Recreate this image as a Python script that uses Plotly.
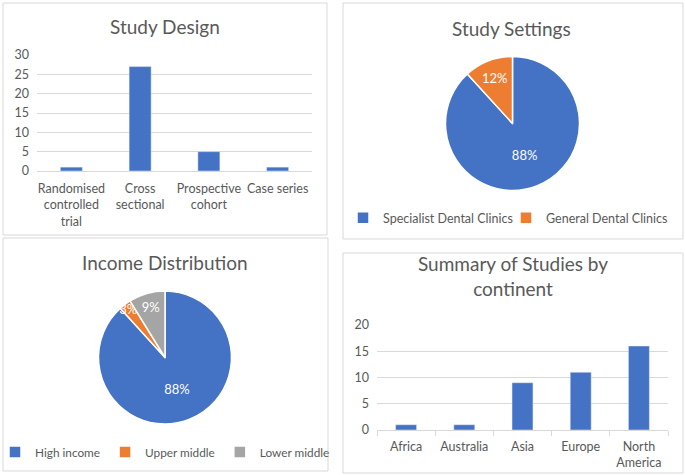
import plotly.graph_objects as go

# ---------------- data ----------------
design_categories = ["Randomised controlled trial", "Cross sectional", "Prospective cohort", "Case series"]
design_ticklabels = ["Randomised<br>controlled<br>trial", "Cross<br>sectional", "Prospective<br>cohort", "Case series"]
design_counts = [1, 27, 5, 1]

setting_labels = ["Specialist Dental Clinics", "General Dental Clinics"]
setting_counts = [30, 4]

income_labels = ["High income", "Upper middle", "Lower middle"]
income_counts = [30, 1, 3]

continent_categories = ["Africa", "Australia", "Asia", "Europe", "North America"]
continent_ticklabels = ["Africa", "Australia", "Asia", "Europe", "North<br>America"]
continent_counts = [1, 1, 9, 11, 16]

titles = ["Study Design", "Study Settings", "Income Distribution", "Summary of Studies by<br>continent"]

# ---------------- style ----------------
W, H = 685, 475
BLUE, ORANGE, GRAY = "#4472C4", "#ED7D31", "#A5A5A5"
TXT = "#595959"
GRID = "#D9D9D9"
FONT = "Lato, Open Sans, sans-serif"


def fx(p):
    return p / W


def fy(p):
    return 1 - p / H


fig = go.Figure()

fig.add_trace(go.Bar(
    x=design_categories, y=design_counts, width=0.32,
    marker=dict(color=BLUE), xaxis="x", yaxis="y", showlegend=False,
))
fig.add_trace(go.Bar(
    x=continent_categories, y=continent_counts, width=0.36,
    marker=dict(color=BLUE), xaxis="x2", yaxis="y2", showlegend=False,
))

pie_common = dict(
    sort=False, direction="clockwise", rotation=0,
    texttemplate="%{percent:.0%}", textposition="inside",
    insidetextorientation="horizontal",
    textfont=dict(color="white", size=13, family=FONT),
)
fig.add_trace(go.Pie(
    labels=setting_labels, values=setting_counts,
    domain=dict(x=[fx(445.5), fx(579.5)], y=[fy(190.5), fy(56.5)]),
    marker=dict(colors=[BLUE, ORANGE], line=dict(color="white", width=1.5)),
    legend="legend", **pie_common,
))
fig.add_trace(go.Pie(
    labels=income_labels, values=income_counts,
    domain=dict(x=[fx(98.5), fx(231.5)], y=[fy(424), fy(291)]),
    marker=dict(colors=[BLUE, ORANGE, GRAY], line=dict(color="white", width=1.5)),
    legend="legend2", **pie_common,
))

tickfont = dict(family=FONT, size=12.5, color=TXT)

# panel borders
panels = [(3, 3, 327, 235), (343, 3, 683, 239), (3, 238, 328, 471), (343, 253, 683, 473)]
shapes = [dict(type="rect", xref="paper", yref="paper",
               x0=fx(a), x1=fx(c), y0=fy(d), y1=fy(b),
               line=dict(color=GRID, width=1), layer="below")
          for a, b, c, d in panels]

title_pos = [(165, 26), (512, 28), (165, 262), (513, 276)]
annotations = [dict(text=t, x=fx(px), y=fy(py), xref="paper", yref="paper",
                    xanchor="center", yanchor="middle", showarrow=False,
                    font=dict(family=FONT, size=19, color=TXT))
               for t, (px, py) in zip(titles, title_pos)]

fig.update_layout(
    width=W, height=H,
    margin=dict(l=0, r=0, t=0, b=0, pad=0, autoexpand=False),
    paper_bgcolor="white", plot_bgcolor="white",
    font=dict(family=FONT, color=TXT),
    shapes=shapes, annotations=annotations,
    uniformtext=dict(minsize=13, mode="show"),
    xaxis=dict(domain=[fx(37), fx(312)], anchor="y", tickvals=design_categories,
               ticktext=design_ticklabels, tickfont=tickfont, showgrid=False,
               showline=True, linecolor=GRID, ticks="", tickangle=0,
               ticklabelstandoff=6, automargin=False),
    yaxis=dict(domain=[fy(171), fy(55)], anchor="x", range=[0, 30], dtick=5,
               tickfont=tickfont, gridcolor=GRID, zeroline=False, showline=False,
               ticks="", ticklabelstandoff=7, automargin=False),
    xaxis2=dict(domain=[fx(377), fx(668)], anchor="y2", tickvals=continent_categories,
                ticktext=continent_ticklabels, tickfont=tickfont, showgrid=False,
                showline=True, linecolor=GRID, ticks="outside", tickson="boundaries",
                ticklen=5, tickcolor=GRID, tickangle=0, ticklabelstandoff=5,
                automargin=False),
    yaxis2=dict(domain=[fy(430), fy(325)], anchor="x2", range=[0, 20], dtick=5,
                tickfont=tickfont, gridcolor=GRID, zeroline=False, showline=False,
                ticks="", ticklabelstandoff=7, automargin=False),
    legend=dict(orientation="h", x=fx(343), xanchor="left", y=fy(218), yanchor="middle",
                font=dict(family=FONT, size=12.5, color=TXT), itemwidth=30,
                entrywidth=118, entrywidthmode="pixels", bgcolor="rgba(0,0,0,0)"),
    legend2=dict(orientation="h", x=fx(165), xanchor="center", y=fy(452), yanchor="middle",
                 font=dict(family=FONT, size=11.8, color=TXT), itemwidth=30,
                 bgcolor="rgba(0,0,0,0)"),
)

fig.write_html(
    "out.html",
    post_script="document.documentElement.style.margin='0';"
                "document.body.style.margin='0';document.body.style.padding='0';"
                "document.body.style.overflow='hidden';",
)
